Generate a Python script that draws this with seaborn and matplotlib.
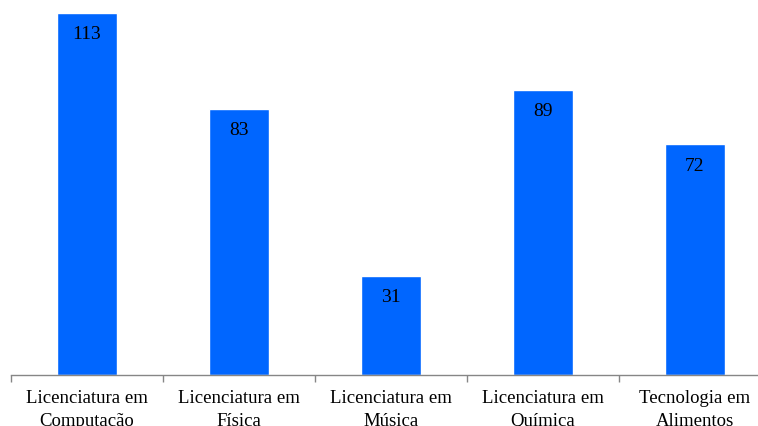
import pandas as pd
import seaborn as sns
import matplotlib.pyplot as plt
from matplotlib.ticker import FixedLocator

# data
cursos = ['Licenciatura em\nComputação', 'Licenciatura em\nFísica',
          'Licenciatura em\nMúsica', 'Licenciatura em\nQuímica',
          'Tecnologia em\nAlimentos']
alunos = [113, 83, 31, 89, 72]

df = pd.DataFrame({'Curso': cursos, 'Alunos': alunos})

sns.set_theme(style="white")
plt.rcParams['font.family'] = ['Liberation Serif', 'DejaVu Serif']

fig = plt.figure(figsize=(7.58, 4.27), dpi=100)
ax = fig.add_axes([11 / 758, 51 / 427, 760 / 758, 362 / 427])

sns.barplot(data=df, x='Curso', y='Alunos', color='#0066FF', width=0.4,
            saturation=1, ax=ax)

# value labels just inside the top of each bar
for i, v in enumerate(alunos):
    ax.annotate(str(v), (i, v), xytext=(0, -15), textcoords='offset points',
                ha='center', va='center', fontsize=14, color='black')

ax.set_ylim(0, 113)
ax.set_xlim(-0.5, len(cursos) - 0.5)
ax.set_xlabel('')
ax.set_ylabel('')
ax.set_yticks([])

for s in ['top', 'right', 'left']:
    ax.spines[s].set_visible(False)
ax.spines['bottom'].set_color('#868686')
ax.spines['bottom'].set_linewidth(1)

# tick marks between categories
ax.xaxis.set_minor_locator(FixedLocator([i - 0.5 for i in range(len(cursos) + 1)]))
ax.tick_params(axis='x', which='minor', length=5, width=1, color='#868686',
               direction='out', bottom=True)
ax.tick_params(axis='x', which='major', length=0, pad=10, labelsize=13.5,
               labelcolor='black')
ax.set_xticks(range(len(cursos)))
ax.set_xticklabels(cursos, linespacing=1.45)

fig.savefig('out.png', dpi=100)
